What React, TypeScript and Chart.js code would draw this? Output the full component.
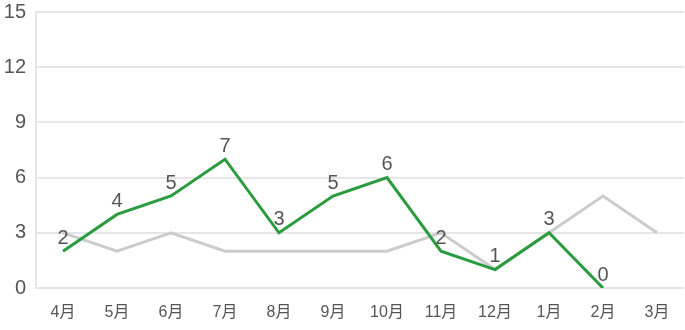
import React, { useEffect, useRef } from "react";
import { Chart, registerables } from "chart.js";

Chart.register(...registerables);

const categories = ["4月", "5月", "6月", "7月", "8月", "9月", "10月", "11月", "12月", "1月", "2月", "3月"];
const currentSeries: (number | null)[] = [2, 4, 5, 7, 3, 5, 6, 2, 1, 3, 0, null];
const previousSeries: number[] = [3, 2, 3, 2, 2, 2, 2, 3, 1, 3, 5, 3];
const yTicks = [0, 3, 6, 9, 12, 15];

const FONT = "'Liberation Sans', 'Noto Sans CJK JP', sans-serif";

const labelPlugin = {
  id: "pointLabels",
  afterDatasetsDraw(chart: any) {
    const ctx = chart.ctx;
    const meta = chart.getDatasetMeta(1);
    const data = chart.data.datasets[1].data;
    ctx.save();
    ctx.fillStyle = "#555555";
    ctx.font = `20px ${FONT}`;
    ctx.textAlign = "center";
    ctx.textBaseline = "bottom";
    meta.data.forEach((pt: any, i: number) => {
      const v = data[i];
      if (v === null || v === undefined) return;
      ctx.fillText(String(v), pt.x, pt.y - 3);
    });
    ctx.restore();
  },
};

export default function App() {
  const ref = useRef<HTMLCanvasElement>(null);
  useEffect(() => {
    document.body.style.margin = "0";
    const chart = new Chart(ref.current!, {
      type: "line",
      data: {
        labels: categories,
        datasets: [
          {
            data: previousSeries,
            borderColor: "#cccccc",
            borderWidth: 3,
            pointRadius: 0,
            tension: 0,
            order: 2,
          },
          {
            data: currentSeries,
            borderColor: "#2a9c3f",
            borderWidth: 3,
            pointRadius: 0,
            tension: 0,
            order: 1,
          },
        ],
      },
      options: {
        animation: false,
        responsive: false,
        layout: { padding: { top: 0, right: 1, left: 0, bottom: 0 } },
        plugins: { legend: { display: false }, tooltip: { enabled: false } },
        scales: {
          x: {
            offset: true,
            grid: { display: false, drawTicks: false },
            border: { display: false },
            ticks: { color: "#555555", font: { family: FONT, size: 16 }, padding: 15, maxRotation: 0, autoSkip: false },
            afterFit: (s: any) => {
              s.height = 42;
            },
          },
          y: {
            min: 0,
            max: 15,
            afterBuildTicks: (s: any) => {
              s.ticks = yTicks.map((v) => ({ value: v }));
            },
            grid: { color: "#e6e6e6", lineWidth: 2, drawTicks: false },
            border: { display: true, color: "#e6e6e6", width: 2 },
            ticks: { color: "#555555", font: { family: FONT, size: 20 }, padding: 10 },
            afterFit: (s: any) => {
              s.width = 36;
              s.paddingTop = 12;
              s.paddingBottom = 0;
            },
          },
        },
      },
      plugins: [labelPlugin],
    });
    return () => chart.destroy();
  }, []);
  return <canvas ref={ref} width={685} height={330} style={{ display: "block" }} />;
}
